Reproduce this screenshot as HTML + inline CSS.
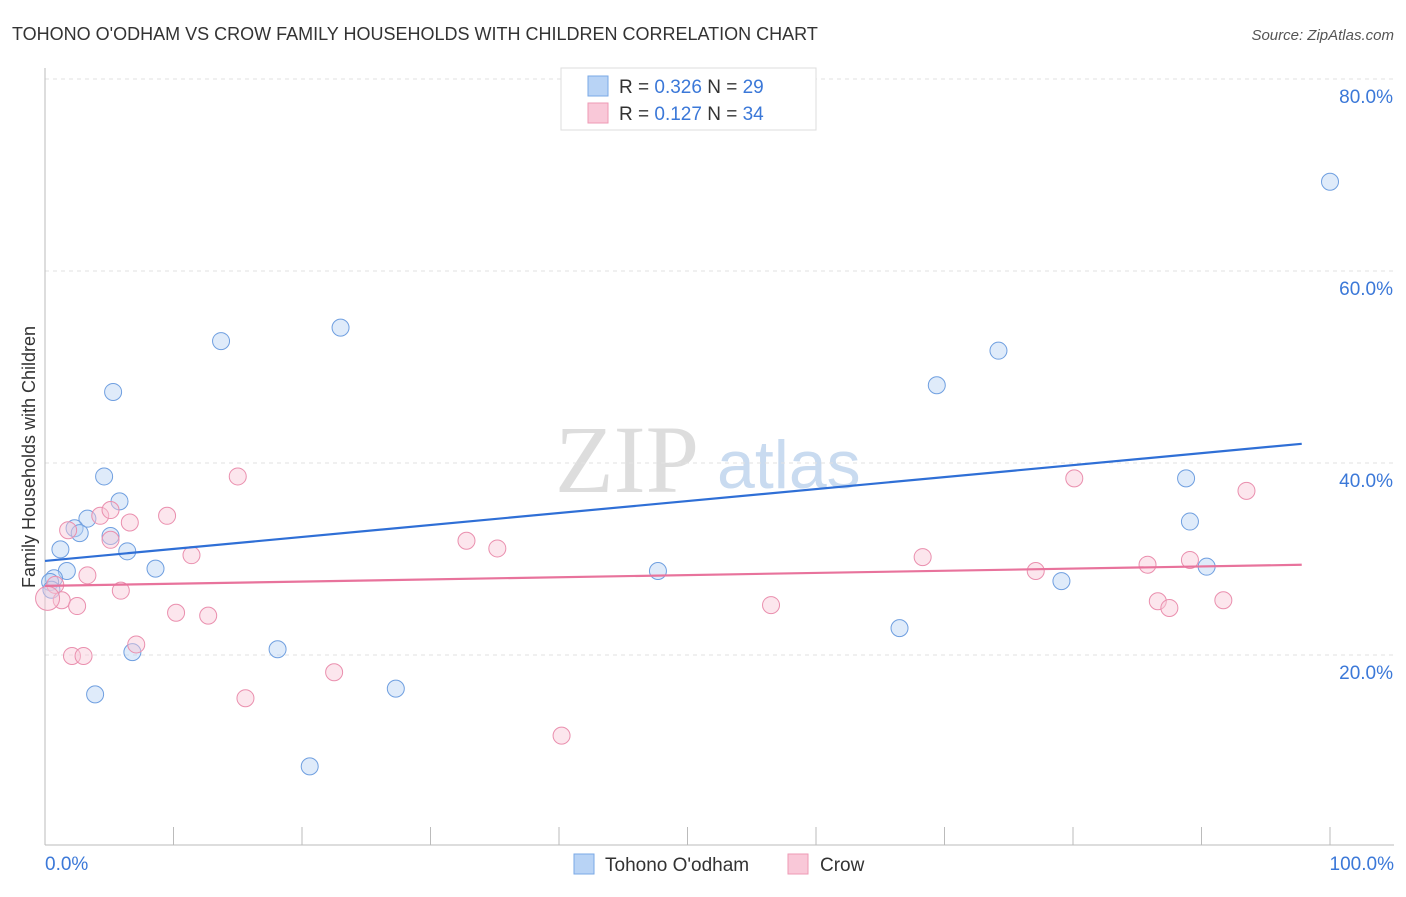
<!DOCTYPE html>
<html><head><meta charset="utf-8"><style>
body{margin:0;background:#fff;font-family:"Liberation Sans",sans-serif}
#wrap{position:relative;width:1406px;height:892px}
</style></head><body>
<div id="wrap">
<svg id="svg" width="1406" height="892" xmlns="http://www.w3.org/2000/svg">
<text x="12" y="40" font-size="18" fill="#333">TOHONO O'ODHAM VS CROW FAMILY HOUSEHOLDS WITH CHILDREN CORRELATION CHART</text>
<text x="1394" y="40" font-size="15" fill="#555" font-style="italic" text-anchor="end">Source: ZipAtlas.com</text>
<text x="35" y="457" font-size="18" fill="#333" text-anchor="middle" transform="rotate(-90 35 457)">Family Households with Children</text>
<text x="555" y="492" font-size="96" fill="#ddd" font-family="Liberation Serif">ZIP</text>
<text x="717" y="488" font-size="68" fill="#c9dbf0">atlas</text>
<g id="grid"></g><g id="marks"></g>
<g>
<rect x="561" y="68" width="255" height="62" fill="#fff" stroke="#ddd"/>
<rect x="588" y="76" width="20" height="20" fill="#b8d3f5" stroke="#7aa8e6"/>
<rect x="588" y="103" width="20" height="20" fill="#f9c8d8" stroke="#ee9ab5"/>
<text x="619" y="93" font-size="19" fill="#333">R = <tspan fill="#3b78d8">0.326</tspan>   N = <tspan fill="#3b78d8">29</tspan></text>
<text x="619" y="120" font-size="19" fill="#333">R =  <tspan fill="#3b78d8">0.127</tspan>   N = <tspan fill="#3b78d8">34</tspan></text>
</g>
<g>
<rect x="574" y="854" width="20" height="20" fill="#b8d3f5" stroke="#7aa8e6"/>
<text x="605" y="871" font-size="19" fill="#333">Tohono O'odham</text>
<rect x="788" y="854" width="20" height="20" fill="#f9c8d8" stroke="#ee9ab5"/>
<text x="820" y="871" font-size="19" fill="#333">Crow</text>
</g>
</svg>
<script>
const yTicks=[20,40,60,80];
const yTickLabels=["20.0%","40.0%","60.0%","80.0%"];
const xTickLabels=["0.0%","100.0%"];
const blueX=[100,13.7,23.0,5.3,4.6,5.8,3.3,2.3,2.7,5.1,1.2,6.4,1.7,8.6,0.7,0.4,0.5,6.8,3.9,18.1,20.6,27.3,47.7,69.4,74.2,66.5,79.1,88.8,89.1,90.4];
const blueY=[69.3,52.7,54.1,47.4,38.6,36.0,34.2,33.2,32.7,32.4,31.0,30.8,28.75,29.0,28.0,27.6,26.8,20.3,15.9,20.6,8.4,16.5,28.75,48.1,51.7,22.8,27.7,38.4,33.9,29.2];
const pinkX=[0.8,1.3,1.8,2.5,3.3,2.1,3.0,4.3,5.1,5.1,6.6,5.9,7.1,9.5,11.4,10.2,12.7,15.0,15.6,22.5,32.8,35.2,40.2,56.5,68.3,77.1,80.1,85.8,86.6,87.5,89.1,91.7,93.5,0.2];
const pinkY=[27.3,25.7,33.0,25.1,28.3,19.9,19.9,34.5,35.1,32.0,33.8,26.7,21.1,34.5,30.4,24.4,24.1,38.6,15.5,18.2,31.9,31.1,11.6,25.2,30.2,28.75,38.4,29.4,25.6,24.9,29.9,25.7,37.1,25.9];
const blueTrend=[29.8,42.0];
const pinkTrend=[27.2,29.4];
const trendX=[0,97.8];
const NS="http://www.w3.org/2000/svg";
const X=v=>45+v*12.85, Y=v=>847-v*9.6;
const grid=document.getElementById('grid'),marks=document.getElementById('marks');
function mk(tag,at,parent){const e=document.createElementNS(NS,tag);for(const k in at)e.setAttribute(k,at[k]);parent.appendChild(e);return e;}
yTicks.forEach((t,i)=>{
 const l=mk('line',{x1:45,x2:1394,y1:Y(t),y2:Y(t),stroke:'#e2e2e2','stroke-dasharray':'4,4'},grid);
 
 
 const tx=mk('text',{x:1393,y:Y(t)+24,'font-size':19,fill:'#3b78d8','text-anchor':'end'},grid);tx.textContent=yTickLabels[i];
 
 
});
const ax=mk('line',{x1:45,x2:1394,y1:845,y2:845,stroke:'#bbb'},grid);


const ay=mk('line',{x1:45,x2:45,y1:68,y2:845,stroke:'#bbb'},grid);


for(let i=1;i<=10;i++){const t=mk('line',{x1:X(i*10),x2:X(i*10),y1:827,y2:845,stroke:'#bbb'},grid);
 
 }
[[0,'start',45],[100,'end',1394]].forEach((d,i)=>{const t=mk('text',{x:d[2],y:870,'font-size':19,fill:'#3b78d8','text-anchor':d[1]},grid);t.textContent=xTickLabels[i];
 
 });
function pts(xs,ys,fill,stroke,name){xs.forEach((x,i)=>{const r=(name==='crow-point'&&i===xs.length-1)?12:8.5;
 const c=mk('circle',{cx:X(x),cy:Y(ys[i]),r:r,fill:fill,'fill-opacity':0.45,stroke:stroke,'stroke-width':1},marks);
 
 });}
pts(blueX,blueY,'#b8d3f5','#6f9fe0','tohono-point');
pts(pinkX,pinkY,'#f9c8d8','#ea8fae','crow-point');
const bl=mk('line',{x1:X(trendX[0]),y1:Y(blueTrend[0]),x2:X(trendX[1]),y2:Y(blueTrend[1]),stroke:'#2f6fd6','stroke-width':2.2},marks);


const pl=mk('line',{x1:X(trendX[0]),y1:Y(pinkTrend[0]),x2:X(trendX[1]),y2:Y(pinkTrend[1]),stroke:'#e8739c','stroke-width':2.2},marks);


</script>
</div></body></html>
